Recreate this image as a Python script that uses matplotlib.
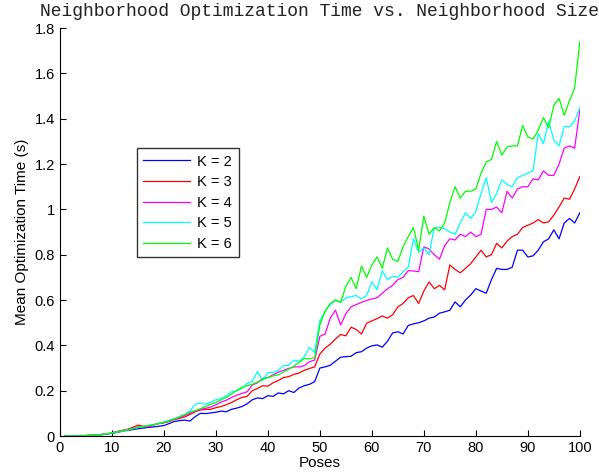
import matplotlib
matplotlib.use("Agg")
import matplotlib.pyplot as plt
import numpy as np

poses = np.arange(1, 101)

k2 = [0.000, 0.000, 0.001, 0.001, 0.002, 0.003, 0.004, 0.006, 0.009, 0.012,
      0.016, 0.021, 0.025, 0.028, 0.032, 0.035, 0.038, 0.040, 0.043, 0.046,
      0.055, 0.064, 0.068, 0.070, 0.066, 0.085, 0.100, 0.099, 0.102, 0.105,
      0.110, 0.107, 0.118, 0.123, 0.130, 0.142, 0.160, 0.168, 0.165, 0.178,
      0.175, 0.190, 0.186, 0.200, 0.192, 0.212, 0.222, 0.228, 0.240, 0.300,
      0.305, 0.312, 0.330, 0.348, 0.350, 0.352, 0.368, 0.372, 0.388, 0.398,
      0.402, 0.392, 0.418, 0.455, 0.460, 0.450, 0.488, 0.495, 0.500, 0.508,
      0.520, 0.525, 0.542, 0.548, 0.555, 0.592, 0.570, 0.600, 0.622, 0.650,
      0.640, 0.630, 0.690, 0.740, 0.735, 0.735, 0.745, 0.820, 0.820, 0.790,
      0.795, 0.820, 0.857, 0.870, 0.910, 0.870, 0.940, 0.960, 0.940, 0.985]

k3 = [0.000, 0.000, 0.001, 0.001, 0.002, 0.003, 0.004, 0.007, 0.010, 0.014,
      0.020, 0.025, 0.030, 0.038, 0.048, 0.043, 0.040, 0.048, 0.055, 0.058,
      0.064, 0.072, 0.078, 0.084, 0.095, 0.107, 0.115, 0.117, 0.118, 0.125,
      0.130, 0.138, 0.148, 0.160, 0.170, 0.175, 0.200, 0.210, 0.222, 0.220,
      0.235, 0.245, 0.258, 0.262, 0.272, 0.278, 0.290, 0.298, 0.305, 0.362,
      0.388, 0.405, 0.428, 0.448, 0.442, 0.480, 0.470, 0.450, 0.498, 0.508,
      0.518, 0.530, 0.520, 0.535, 0.570, 0.585, 0.610, 0.620, 0.585, 0.640,
      0.680, 0.650, 0.665, 0.645, 0.755, 0.735, 0.720, 0.740, 0.760, 0.790,
      0.820, 0.790, 0.800, 0.850, 0.830, 0.860, 0.880, 0.890, 0.920, 0.930,
      0.940, 0.955, 0.940, 0.945, 0.975, 1.010, 1.050, 1.045, 1.090, 1.145]

k4 = [0.000, 0.000, 0.000, 0.001, 0.002, 0.003, 0.004, 0.006, 0.009, 0.013,
      0.018, 0.023, 0.028, 0.033, 0.040, 0.042, 0.045, 0.050, 0.055, 0.060,
      0.068, 0.075, 0.082, 0.090, 0.100, 0.110, 0.118, 0.122, 0.128, 0.138,
      0.150, 0.158, 0.170, 0.180, 0.188, 0.195, 0.225, 0.235, 0.255, 0.258,
      0.270, 0.282, 0.290, 0.298, 0.305, 0.305, 0.310, 0.328, 0.335, 0.440,
      0.450, 0.520, 0.555, 0.490, 0.540, 0.570, 0.580, 0.590, 0.598, 0.605,
      0.610, 0.630, 0.650, 0.665, 0.690, 0.700, 0.730, 0.728, 0.725, 0.835,
      0.825, 0.800, 0.780, 0.840, 0.870, 0.865, 0.890, 0.880, 0.900, 0.880,
      0.890, 1.000, 1.000, 1.010, 0.985, 1.080, 1.050, 1.090, 1.100, 1.100,
      1.135, 1.130, 1.170, 1.150, 1.150, 1.200, 1.270, 1.280, 1.270, 1.440]

k5 = [0.000, 0.000, 0.000, 0.001, 0.002, 0.003, 0.004, 0.006, 0.010, 0.014,
      0.018, 0.022, 0.027, 0.032, 0.038, 0.042, 0.045, 0.050, 0.056, 0.062,
      0.068, 0.076, 0.085, 0.095, 0.110, 0.140, 0.145, 0.140, 0.150, 0.160,
      0.165, 0.178, 0.195, 0.200, 0.210, 0.232, 0.240, 0.285, 0.245, 0.280,
      0.280, 0.290, 0.310, 0.312, 0.335, 0.330, 0.350, 0.390, 0.370, 0.510,
      0.550, 0.580, 0.600, 0.590, 0.610, 0.615, 0.620, 0.605, 0.620, 0.680,
      0.645, 0.730, 0.690, 0.705, 0.700, 0.725, 0.745, 0.870, 0.810, 0.830,
      0.800, 0.920, 0.920, 0.915, 0.900, 0.890, 0.940, 0.985, 0.960, 0.990,
      1.070, 1.140, 1.030, 1.070, 1.130, 1.110, 1.100, 1.140, 1.150, 1.160,
      1.170, 1.335, 1.290, 1.390, 1.305, 1.280, 1.365, 1.365, 1.390, 1.450]

k6 = [0.000, 0.000, 0.000, 0.001, 0.002, 0.003, 0.004, 0.006, 0.009, 0.013,
      0.017, 0.022, 0.027, 0.032, 0.037, 0.042, 0.046, 0.050, 0.055, 0.060,
      0.067, 0.075, 0.085, 0.095, 0.105, 0.112, 0.120, 0.130, 0.140, 0.148,
      0.160, 0.170, 0.185, 0.200, 0.215, 0.222, 0.228, 0.238, 0.250, 0.258,
      0.265, 0.270, 0.282, 0.295, 0.308, 0.325, 0.342, 0.340, 0.345, 0.490,
      0.550, 0.585, 0.600, 0.590, 0.660, 0.700, 0.650, 0.750, 0.700, 0.755,
      0.790, 0.740, 0.830, 0.780, 0.770, 0.835, 0.880, 0.920, 0.820, 0.970,
      0.890, 0.920, 0.905, 0.940, 1.030, 1.100, 1.050, 1.080, 1.080, 1.090,
      1.160, 1.210, 1.220, 1.300, 1.240, 1.275, 1.280, 1.280, 1.370, 1.320,
      1.310, 1.350, 1.405, 1.360, 1.460, 1.490, 1.415, 1.480, 1.535, 1.740]

series = [k2, k3, k4, k5, k6]
labels = ["K = 2", "K = 3", "K = 4", "K = 5", "K = 6"]
colors = [(0, 0, 1), (1, 0, 0), (1, 0, 1), (0, 1, 1), (0, 1, 0)]

plt.rcParams['font.family'] = ['Liberation Sans', 'DejaVu Sans']

fig = plt.figure(figsize=(5.99, 4.76), dpi=100)
ax = fig.add_axes([0.100, 0.084, 0.868, 0.857])

for vals, lab, col in zip(series, labels, colors):
    ax.plot(poses, vals, color=col, lw=0.9, label=lab)

ax.set_xlim(0, 100)
ax.set_ylim(0, 1.8)
ax.set_xticks(np.arange(0, 101, 10))
yt = np.arange(0, 1.81, 0.2)
ax.set_yticks(yt)
ax.set_yticklabels(["0", "0.2", "0.4", "0.6", "0.8", "1", "1.2", "1.4", "1.6", "1.8"])
ax.tick_params(direction='in', length=4, labelsize=10.5, width=0.8)
ax.spines['top'].set_visible(False)
ax.spines['right'].set_visible(False)

ax.set_xlabel("Poses", fontsize=11, labelpad=1)
ax.set_ylabel("Mean Optimization Time (s)", fontsize=11, labelpad=4)
ax.set_title("Neighborhood Optimization Time vs. Neighborhood Size",
             family='Liberation Mono', fontsize=13, pad=9, color='#222222')

leg = ax.legend(loc='upper left', bbox_to_anchor=(0.148, 0.706), borderaxespad=0,
                fancybox=False, edgecolor='black', fontsize=10.5,
                handlelength=3.2, handletextpad=0.5, labelspacing=0.45,
                borderpad=0.45)
leg.get_frame().set_linewidth(1.0)

fig.savefig("out.png", dpi=100)
